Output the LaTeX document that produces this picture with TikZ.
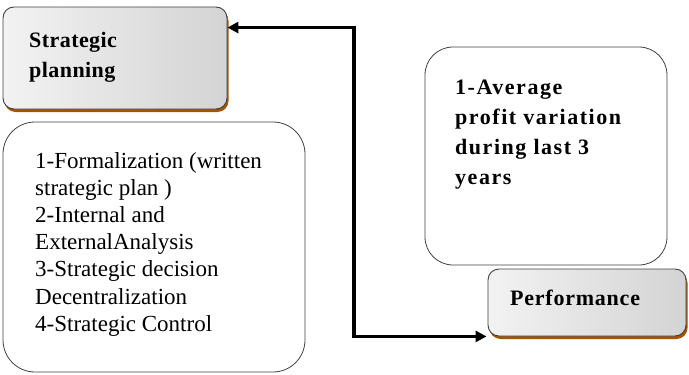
\documentclass[tikz,border=0pt]{standalone}
\usepackage{fontspec}
\setmainfont{Liberation Serif}
\usetikzlibrary{arrows.meta,shadows,calc}
\tikzset{
  headbox/.style={draw=black!75, line width=0.9pt, rounded corners=11pt,
    left color=black!5, right color=black!17,
    drop shadow={shadow xshift=1.5pt, shadow yshift=-3pt, fill=orange!65!black, opacity=1}},
  listbox/.style={draw=black!75, line width=0.8pt, rounded corners=32pt, fill=white},
  conn/.style={line width=3.2pt, {Triangle[length=11pt,width=11pt]}-{Triangle[length=11pt,width=11pt]}},
  plaintxt/.style={inner sep=0pt, align=left, font=\fontsize{23}{27.2}\selectfont},
  boldtxt/.style={inner sep=0pt, align=left, font=\fontsize{22}{30}\selectfont\bfseries}
}
\begin{document}
\begin{tikzpicture}[x=1pt,y=-1pt]
\useasboundingbox (0,0) rectangle (689,375);
% boxes
\node[headbox, minimum width=224pt, minimum height=102pt] (sp) at (115,58) {};
\node[headbox, minimum width=198pt, minimum height=67pt] (perf) at (587,302.5) {};
\node[listbox, minimum width=302pt, minimum height=250pt] (items) at (154,247) {};
\node[listbox, rounded corners=28pt, minimum width=242pt, minimum height=218pt] (profit) at (546,156) {};
% texts
\node[boldtxt, anchor=north west] (sptxt) at (29,32) {\addfontfeature{LetterSpace=2}Strategic\\\addfontfeature{LetterSpace=2}planning};
\node[boldtxt, anchor=base west] (perftxt) at (510,305) {\addfontfeature{LetterSpace=3.5}Performance};
\node[plaintxt, anchor=north west] (itemstxt) at (35,152) {1-Formalization (written\\strategic plan )\\2-Internal and\\ExternalAnalysis\\3-Strategic decision\\Decentralization\\4-Strategic Control};
\node[boldtxt, anchor=north west] (profittxt) at (455,80) {\addfontfeature{LetterSpace=7}1-Average\\\addfontfeature{LetterSpace=7}profit variation\\\addfontfeature{LetterSpace=7}during last 3\\\addfontfeature{LetterSpace=7}years};
% connector
\coordinate (spin) at ($(sp.north east)+(0,21)$);
\coordinate (perfin) at ($(perf.south west)+(-1,0)$);
\coordinate (vline) at (354,0);
\draw[conn] (spin) -- (spin -| vline) |- (perfin);
\end{tikzpicture}
\end{document}
